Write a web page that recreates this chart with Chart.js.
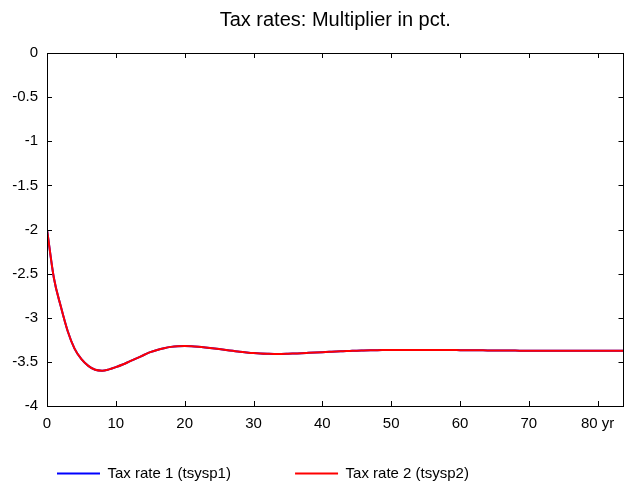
<!DOCTYPE html>
<html>
<head>
<meta charset="utf-8">
<script src="https://cdn.jsdelivr.net/npm/chart.js@4/dist/chart.umd.min.js"></script>
<style>
  html, body { margin: 0; padding: 0; background: #fff; }
  #wrap { width: 626px; height: 484px; }
</style>
</head>
<body>
<div id="wrap"><canvas id="chart"></canvas></div>
<script>
// horizon in years
const years = [
  0, 1, 2, 3, 4, 5, 6, 7, 8, 9, 10, 11, 12, 13, 14, 15, 16, 17, 18, 19,
  20, 21, 22, 23, 24, 25, 26, 27, 28, 29, 30, 31, 32, 33, 34, 35, 36, 37, 38, 39,
  40, 41, 42, 43, 44, 45, 46, 47, 48, 49, 50, 51, 52, 53, 54, 55, 56, 57, 58, 59,
  60, 61, 62, 63, 64, 65, 66, 67, 68, 69, 70, 71, 72, 73, 74, 75, 76, 77, 78, 79,
  80, 81, 82, 83, 84
];

// Tax rate 1 (tsysp1)
const tsysp1 = [
  -2.00, -2.55, -2.87, -3.15, -3.35, -3.47, -3.545, -3.59, -3.60, -3.585,
  -3.56, -3.53, -3.495, -3.46, -3.425, -3.39, -3.365, -3.345, -3.33, -3.322,
  -3.32, -3.322, -3.328, -3.336, -3.345, -3.355, -3.365, -3.375, -3.385, -3.393,
  -3.40, -3.405, -3.408, -3.41, -3.41, -3.408, -3.405, -3.402, -3.398, -3.394,
  -3.39, -3.386, -3.382, -3.379, -3.376, -3.373, -3.371, -3.369, -3.367, -3.366,
  -3.365, -3.365, -3.365, -3.365, -3.365, -3.365, -3.365, -3.365, -3.366, -3.366,
  -3.367, -3.367, -3.368, -3.369, -3.37, -3.37, -3.371, -3.372, -3.372, -3.373,
  -3.374, -3.374, -3.375, -3.375, -3.375, -3.375, -3.375, -3.375, -3.375, -3.375,
  -3.375, -3.375, -3.375, -3.375, -3.375
];

// Tax rate 2 (tsysp2)
const tsysp2 = [
  -2.00, -2.55, -2.87, -3.15, -3.35, -3.47, -3.545, -3.59, -3.60, -3.585,
  -3.56, -3.53, -3.495, -3.46, -3.425, -3.39, -3.365, -3.345, -3.33, -3.322,
  -3.32, -3.322, -3.328, -3.336, -3.345, -3.355, -3.365, -3.375, -3.385, -3.393,
  -3.40, -3.405, -3.408, -3.41, -3.41, -3.408, -3.405, -3.402, -3.398, -3.394,
  -3.39, -3.386, -3.382, -3.379, -3.376, -3.373, -3.371, -3.369, -3.367, -3.366,
  -3.365, -3.365, -3.365, -3.365, -3.365, -3.365, -3.365, -3.365, -3.366, -3.366,
  -3.367, -3.367, -3.368, -3.369, -3.37, -3.37, -3.371, -3.372, -3.372, -3.373,
  -3.374, -3.374, -3.375, -3.375, -3.375, -3.375, -3.375, -3.375, -3.375, -3.375,
  -3.375, -3.375, -3.375, -3.375, -3.375
];

const xTicks = [0, 10, 20, 30, 40, 50, 60, 70, 80];
const yTicks = [0, -0.5, -1, -1.5, -2, -2.5, -3, -3.5, -4];

const pts = arr => years.map((x, i) => ({ x: x, y: arr[i] }));

Chart.defaults.font.family = '"Liberation Sans", Arial, Helvetica, sans-serif';
Chart.defaults.color = '#000';

// gnuplot style frame with inward ticks, mirrored on all four sides
const frame = {
  id: 'frame',
  afterDraw(chart) {
    const { ctx, chartArea: a, scales } = chart;
    const len = 5;
    ctx.save();
    ctx.strokeStyle = '#000';
    ctx.lineWidth = 1;
    ctx.beginPath();
    xTicks.forEach(v => {
      const px = Math.round(scales.x.getPixelForValue(v)) + 0.5;
      ctx.moveTo(px, a.bottom); ctx.lineTo(px, a.bottom - len);
      ctx.moveTo(px, a.top); ctx.lineTo(px, a.top + len);
    });
    yTicks.forEach(v => {
      const py = Math.round(scales.y.getPixelForValue(v)) + 0.5;
      ctx.moveTo(a.left, py); ctx.lineTo(a.left + len, py);
      ctx.moveTo(a.right, py); ctx.lineTo(a.right - len, py);
    });
    ctx.stroke();
    ctx.strokeRect(Math.round(a.left) + 0.5, Math.round(a.top) + 0.5,
      Math.round(a.right - a.left) - 1, Math.round(a.bottom - a.top));
    ctx.restore();
  }
};

new Chart(document.getElementById('chart'), {
  type: 'line',
  data: {
    datasets: [
      {
        label: 'Tax rate 1 (tsysp1)' + ' '.repeat(13),
        data: pts(tsysp1),
        borderColor: '#0000ff',
        backgroundColor: '#0000ff',
        borderWidth: 2,
        pointRadius: 0,
        cubicInterpolationMode: 'monotone',
        order: 1
      },
      {
        label: 'Tax rate 2 (tsysp2)',
        data: pts(tsysp2),
        borderColor: '#ff0000',
        backgroundColor: '#ff0000',
        borderWidth: 2,
        pointRadius: 0,
        cubicInterpolationMode: 'monotone',
        order: 0
      }
    ]
  },
  options: {
    responsive: true,
    maintainAspectRatio: false,
    animation: false,
    devicePixelRatio: 1,
    layout: { padding: { left: 0, right: 2.5, top: 0, bottom: -7 } },
    plugins: {
      title: {
        display: true,
        fullSize: false,
        text: 'Tax rates: Multiplier in pct.',
        font: { size: 20, weight: 'normal' },
        color: '#000',
        padding: { top: 8, bottom: 21 }
      },
      legend: {
        position: 'bottom',
        align: 'start',
        fullSize: false,
        labels: {
          usePointStyle: true,
          pointStyle: 'line',
          pointStyleWidth: 43,
          padding: 10,
          color: '#000',
          font: { size: 15 },
          sort: (a, b) => a.datasetIndex - b.datasetIndex
        }
      },
      tooltip: { enabled: false }
    },
    scales: {
      x: {
        type: 'linear',
        min: 0,
        max: 83.75,
        grid: { display: false, drawTicks: false },
        border: { display: false },
        afterBuildTicks: s => { s.ticks = xTicks.map(v => ({ value: v })); },
        afterFit: s => { s.height = 50; },
        ticks: {
          padding: 9,
          maxRotation: 0,
          font: { size: 15 },
          callback: v => (v === 80 ? '80 yr' : String(v))
        }
      },
      y: {
        min: -4,
        max: 0,
        grid: { display: false, drawTicks: false },
        border: { display: false },
        afterBuildTicks: s => { s.ticks = yTicks.map(v => ({ value: v })); },
        afterFit: s => { s.width = 47; },
        ticks: {
          padding: 9,
          font: { size: 15 },
          callback: v => String(v)
        }
      }
    }
  },
  plugins: [frame]
});
</script>
</body>
</html>
